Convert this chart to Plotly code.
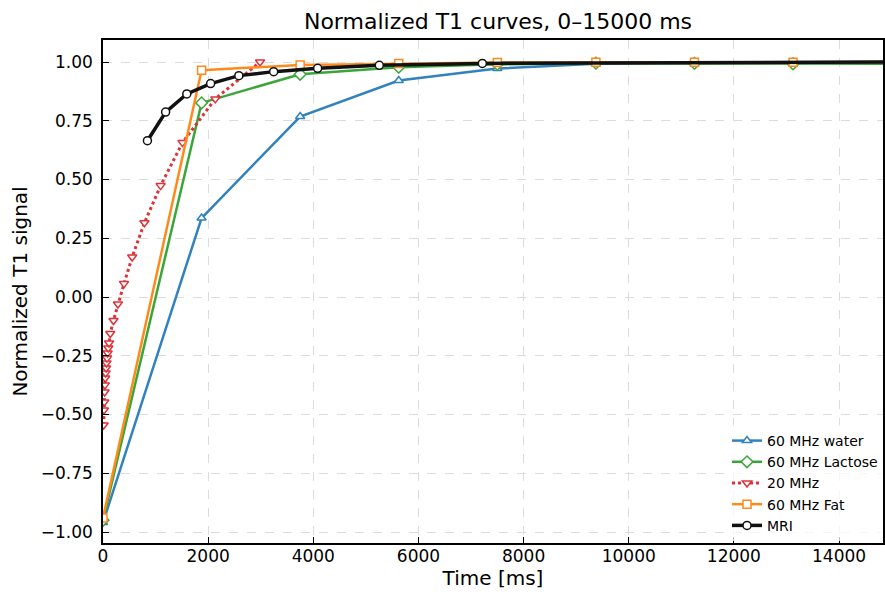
import plotly.graph_objects as go

# 60 MHz series share the same inversion times
t60 = [0, 1875, 3750, 5625, 7500, 9375, 11250, 13125, 15000]
water = [-0.96, 0.336, 0.768, 0.921, 0.972, 0.993, 0.998, 1.0, 1.0]
lactose = [-0.95, 0.826, 0.948, 0.978, 0.990, 0.995, 0.994, 0.992, 0.992]
fat = [-0.94, 0.965, 0.987, 0.994, 0.998, 0.999, 0.999, 0.999, 0.999]

t20 = [12, 18, 24, 30, 36, 42, 50, 58, 66, 76, 88, 100, 115, 138, 200, 284, 400,
       555, 788, 1096, 1512, 2136, 2987]
mhz20 = [-0.545, -0.481, -0.447, -0.404, -0.374, -0.345, -0.323, -0.302, -0.281,
         -0.26, -0.238, -0.217, -0.196, -0.155, -0.10, -0.03, 0.057,
         0.17, 0.316, 0.474, 0.657, 0.843, 1.0]

t_mri = [845, 1191, 1594, 2047, 2584, 3246, 4083, 5255, 7215, 15000]
mri = [0.665, 0.787, 0.864, 0.908, 0.942, 0.959, 0.973, 0.986, 0.994, 1.0]

x_ticks = [0, 2000, 4000, 6000, 8000, 10000, 12000, 14000]
y_ticks = [-1, -0.75, -0.5, -0.25, 0, 0.25, 0.5, 0.75, 1.0]

title = "Normalized T1 curves, 0–15000 ms"
xlabel = "Time [ms]"
ylabel = "Normalized T1 signal"

BLUE = "#3182bd"
GREEN = "#3aa63a"
RED = "#de3239"
ORANGE = "#ff8a1c"
BLACK = "#111111"

fig = go.Figure()

def add(x, y, name, color, symbol, width, dash="solid", size=8):
    fig.add_trace(go.Scatter(
        x=x, y=y, name=name, mode="lines+markers",
        line=dict(color=color, width=width, dash=dash),
        marker=dict(symbol=symbol, size=size, color="white",
                    line=dict(color=color, width=1.5)),
        cliponaxis=True,
    ))

add(t60, water, "60 MHz water", BLUE, "triangle-up", 2.5)
add(t60, lactose, "60 MHz Lactose", GREEN, "diamond", 2.5, size=9)
add(t20, mhz20, "20 MHz", RED, "triangle-down", 3, dash="dot")
add(t60, fat, "60 MHz Fat", ORANGE, "square", 2.5)
add(t_mri, mri, "MRI", BLACK, "circle", 3.5)

font = "DejaVu Sans, sans-serif"
axis_common = dict(
    showline=True, linecolor="black", linewidth=1.5, mirror=True,
    ticks="inside", ticklen=6, tickwidth=1.2, tickcolor="black",
    showgrid=True, gridcolor="#dcdcdc", griddash="dash", gridwidth=1,
    zeroline=False, tickfont=dict(size=17, color="black", family=font),
)

fig.update_layout(
    width=885, height=594,
    margin=dict(l=103, r=0, t=40, b=51),
    paper_bgcolor="white", plot_bgcolor="white",
    font=dict(family=font, color="black"),
    title=dict(text=title, x=498 / 885, xref="container", xanchor="center",
               y=1 - 21 / 594, yref="container", yanchor="middle",
               font=dict(size=22, color="black", family=font)),
    xaxis=dict(range=[0, 14836], tickvals=x_ticks, ticktext=[str(v) for v in x_ticks],
               ticklabelstandoff=-3,
               title=dict(text=xlabel, font=dict(size=20), standoff=2), **axis_common),
    yaxis=dict(range=[-1.0468, 1.0936], tickvals=y_ticks, tickformat=".2f",
               ticklabelstandoff=5,
               title=dict(text=ylabel, font=dict(size=20), standoff=8), **axis_common),
    legend=dict(x=1, y=0.004, xanchor="right", yanchor="bottom",
                bgcolor="rgba(255,255,255,0.75)", borderwidth=0,
                font=dict(size=14, family=font), itemwidth=30,
                tracegroupgap=0),
    showlegend=True,
)

fig.write_html("out.html")
